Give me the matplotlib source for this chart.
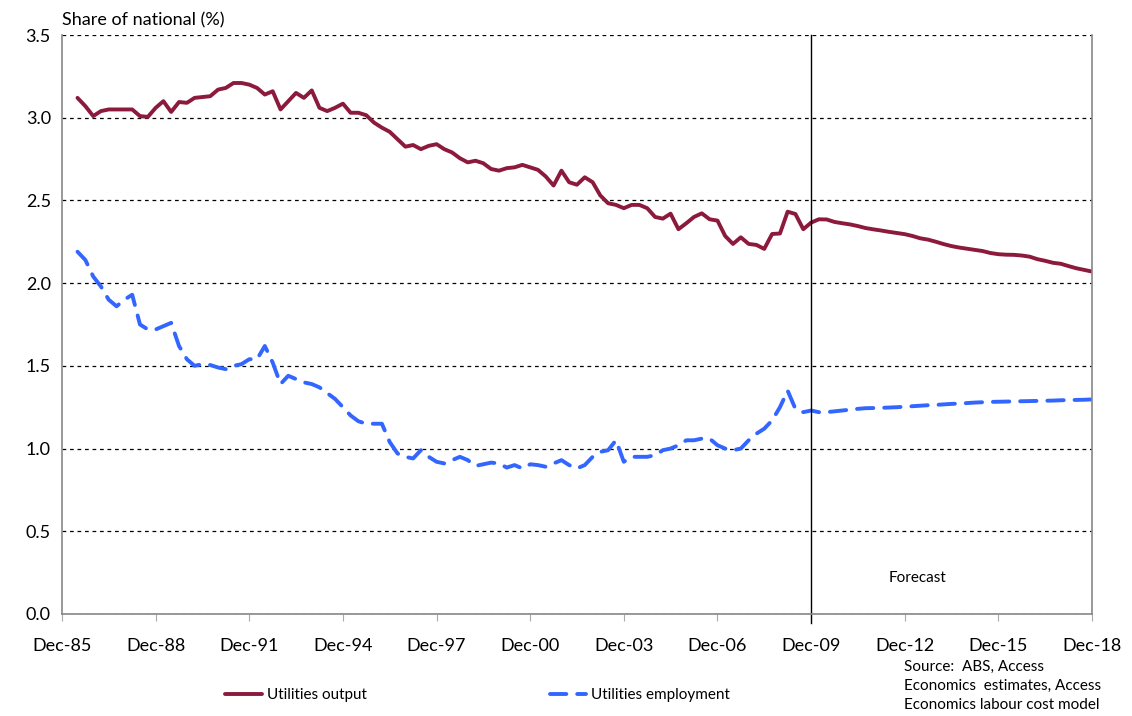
import matplotlib
matplotlib.use("Agg")
import matplotlib.pyplot as plt
import pandas as pd

plt.rcParams['font.family'] = ['Lato', 'DejaVu Sans']

# quarterly, Jun-86 to Dec-18
quarters = pd.date_range("1986-06-30", "2018-12-31", freq="QE-DEC")

output = [
    3.12, 3.07, 3.01, 3.04, 3.05, 3.05, 3.05, 3.05, 3.01, 3.005,
    3.06, 3.10, 3.035, 3.095, 3.09, 3.12, 3.125, 3.13, 3.17, 3.18,
    3.21, 3.21, 3.20, 3.18, 3.14, 3.16, 3.05, 3.10, 3.15, 3.12,
    3.165, 3.06, 3.04, 3.06, 3.085, 3.03, 3.03, 3.015, 2.97, 2.94,
    2.915, 2.87, 2.825, 2.835, 2.81, 2.83, 2.84, 2.81, 2.79, 2.755,
    2.73, 2.74, 2.725, 2.69, 2.68, 2.695, 2.70, 2.715, 2.70, 2.685,
    2.645, 2.59, 2.68, 2.61, 2.595, 2.64, 2.61, 2.53, 2.483, 2.473,
    2.453, 2.473, 2.473, 2.453, 2.40, 2.39, 2.42, 2.326, 2.362, 2.40,
    2.422, 2.386, 2.378, 2.285, 2.237, 2.277, 2.237, 2.231, 2.207, 2.297,
    2.30, 2.432, 2.418, 2.326, 2.366, 2.386, 2.385, 2.37, 2.362, 2.355,
    2.345, 2.333, 2.325, 2.318, 2.31, 2.303, 2.296, 2.285, 2.271, 2.263,
    2.25, 2.236, 2.224, 2.215, 2.208, 2.201, 2.194, 2.182, 2.175, 2.172,
    2.171, 2.167, 2.160, 2.145, 2.135, 2.123, 2.117, 2.103, 2.09, 2.08,
    2.07,
]

employment = [
    2.19, 2.14, 2.04, 1.98, 1.90, 1.86, 1.90, 1.93, 1.75, 1.72,
    1.72, 1.74, 1.76, 1.62, 1.54, 1.50, 1.51, 1.505, 1.49, 1.48,
    1.50, 1.51, 1.54, 1.54, 1.62, 1.52, 1.39, 1.44, 1.42, 1.40,
    1.39, 1.37, 1.335, 1.30, 1.25, 1.20, 1.165, 1.15, 1.15, 1.15,
    1.04, 0.97, 0.95, 0.94, 0.99, 0.95, 0.92, 0.91, 0.93, 0.95,
    0.93, 0.895, 0.905, 0.915, 0.91, 0.885, 0.90, 0.88, 0.905, 0.90,
    0.89, 0.91, 0.93, 0.90, 0.88, 0.90, 0.95, 0.98, 0.99, 1.05,
    0.92, 0.95, 0.95, 0.95, 0.96, 0.99, 1.00, 1.02, 1.05, 1.05,
    1.06, 1.06, 1.02, 1.00, 0.99, 1.00, 1.05, 1.09, 1.12, 1.17,
    1.25, 1.35, 1.24, 1.22, 1.23, 1.22, 1.22, 1.225, 1.23, 1.235,
    1.24, 1.244, 1.245, 1.246, 1.248, 1.25, 1.253, 1.256, 1.259, 1.262,
    1.264, 1.267, 1.270, 1.272, 1.275, 1.278, 1.280, 1.282, 1.283, 1.284,
    1.285, 1.286, 1.287, 1.288, 1.289, 1.290, 1.292, 1.293, 1.294, 1.295,
    1.297,
]

tick_years = list(range(1985, 2019, 3))
tick_labels = ["Dec-%02d" % (y % 100) for y in tick_years]
forecast_start = pd.Timestamp("2009-12-31")

fig = plt.figure(figsize=(11.32, 7.16), dpi=100)
ax = fig.add_axes([0.0548, 0.1425, 0.9099, 0.8086])

ax.plot(quarters, output, color='#8C1A3C', lw=2.8, solid_capstyle='round',
        label='Utilities output')
ax.plot(quarters, employment, color='#3366FF', lw=2.8, dashes=(4.2, 2.8),
        dash_capstyle='round', label='Utilities employment')

# forecast divider, poking a little below the axis like the original
ax.axvline(forecast_start, ymin=-0.016, color='black', lw=1.0, clip_on=False)
ax.text(pd.Timestamp("2012-06-30"), 0.22, "Forecast", fontsize=11, va='center')

ax.set_xlim(pd.Timestamp("1985-12-31"), pd.Timestamp("2018-12-31"))
ax.set_ylim(0, 3.5)
ax.set_yticks([0, 0.5, 1.0, 1.5, 2.0, 2.5, 3.0, 3.5])
ax.set_yticklabels(["%.1f" % v for v in ax.get_yticks()], fontsize=13)
ax.set_xticks([pd.Timestamp("%d-12-31" % y) for y in tick_years])
ax.set_xticklabels(tick_labels, fontsize=13)
ax.tick_params(axis='x', length=5, color='#aaaaaa', pad=12)
ax.tick_params(axis='y', length=0, pad=8)

ax.grid(axis='y', color='black', linestyle=(0, (3, 3)), lw=0.9)
ax.set_axisbelow(True)
for side in ['left', 'bottom', 'right']:
    ax.spines[side].set_color('#888888')
    ax.spines[side].set_linewidth(1.2)
ax.spines['top'].set_visible(False)

fig.text(0.0548, 0.96, "Share of national (%)", fontsize=13, va='bottom')

ax.legend(loc='center left', bbox_to_anchor=(0.199, 0.0293), bbox_transform=fig.transFigure,
          ncol=2, frameon=False, fontsize=11, handlelength=2.4, columnspacing=12,
          handletextpad=0.3, borderpad=0, borderaxespad=0)

fig.text(0.799, 0.078, "Source:  ABS, Access\nEconomics  estimates, Access\nEconomics labour cost model",
         fontsize=11, va='top', linespacing=1.45)

fig.savefig("out.png", dpi=100)
